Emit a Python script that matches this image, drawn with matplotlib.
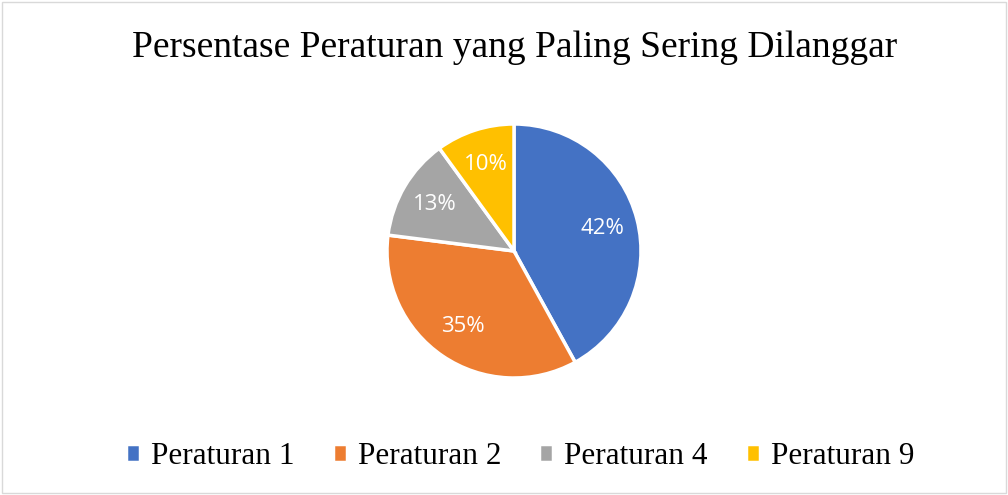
import matplotlib.pyplot as plt
from matplotlib.patches import Rectangle

labels = ["Peraturan 1", "Peraturan 2", "Peraturan 4", "Peraturan 9"]
values = [42, 35, 13, 10]
colors = ["#4472C4", "#ED7D31", "#A5A5A5", "#FFC000"]

fig = plt.figure(figsize=(10.08, 4.95), dpi=100)

# light frame round the chart area
fig.patches.append(Rectangle((0.002, 0.004), 0.996, 0.992, transform=fig.transFigure,
                             fill=False, edgecolor="#D9D9D9", linewidth=1))

fig.text(0.511, 0.903, "Persentase Peraturan yang Paling Sering Dilanggar",
         ha="center", va="center", family="Liberation Serif", fontsize=27)

cx, cy, r = 514, 251, 127
ax = fig.add_axes([(cx - r) / 1008, (495 - cy - r) / 495, 2 * r / 1008, 2 * r / 495])
wedges, texts, autotexts = ax.pie(
    values, colors=colors, startangle=90, counterclock=False,
    autopct="%d%%", pctdistance=0.72,
    wedgeprops=dict(edgecolor="white", linewidth=2.5),
    textprops=dict(color="white", fontsize=16, family="Open Sans"),
)
ax.set_xlim(-1, 1)
ax.set_ylim(-1, 1)
ax.set_aspect("equal")
for w in wedges:
    w.set_clip_on(False)

fig.legend(wedges, labels, loc="center", bbox_to_anchor=(0.516, 0.077), ncol=4,
           frameon=False, prop=dict(family="Liberation Serif", size=22.5),
           handlelength=0.45, handleheight=0.5, handletextpad=0.35, columnspacing=1.22)

fig.savefig("out.png", dpi=100)
